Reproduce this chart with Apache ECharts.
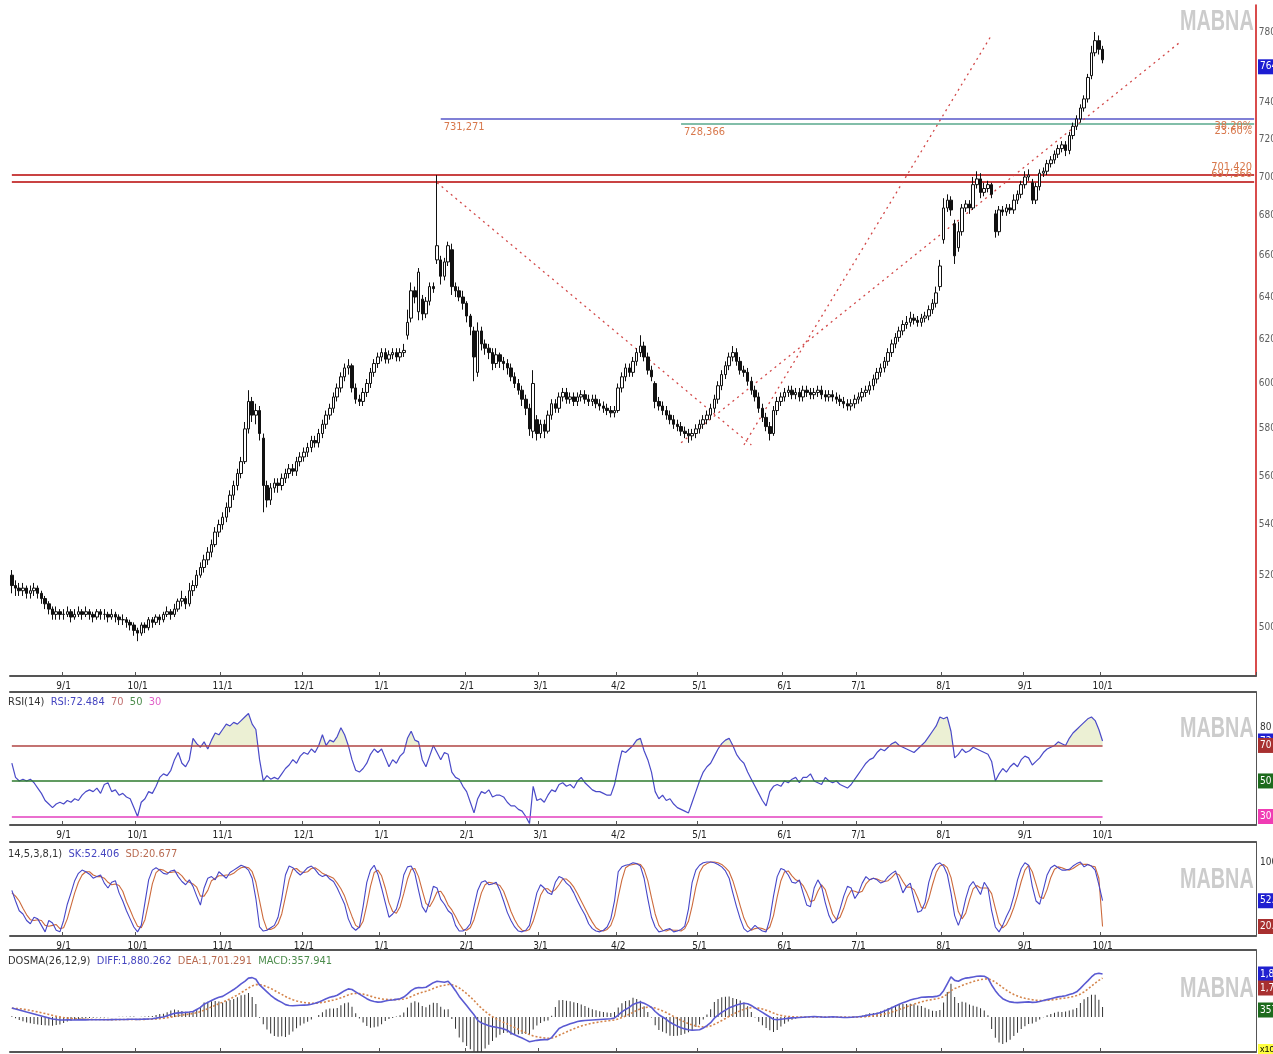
<!DOCTYPE html>
<html><head><meta charset="utf-8">
<script src="https://cdn.jsdelivr.net/npm/echarts@6/dist/echarts.min.js"></script>
<style>html,body{margin:0;padding:0;background:#fff}#c{width:1273px;height:1054px}</style>
</head><body><div id="c"></div>
<script>
// ---------------- DATA ----------------
const openP=[520,516,515,514,515,513,514,515,513,511,
509,507,505,506,505,505,506,504,505,506,
505,506,505,504,506,505,505,504,505,504,
503,503,502,501,499,498,501,500,503,502,
504,503,505,506,505,507,510,511,509,514,
516,520,523,526,529,532,537,540,543,547,
552,556,561,566,580,592,586,588,576,556,
550,555,557,556,559,561,563,562,566,568,
570,572,575,574,578,582,586,589,594,598,
603,607,608,598,593,592,596,600,605,609,
612,614,611,613,614,612,614,622,630,643,
633,639,632,638,645,658,658,650,657,663,
645,643,640,637,631,624,605,624,618,616,
614,609,613,610,609,607,603,600,597,593,
589,579,584,578,582,579,586,591,589,594,
596,593,594,592,594,595,593,592,593,591,
590,589,588,587,588,598,603,607,605,610,
614,617,612,606,600,592,590,588,586,584,
582,581,579,578,577,578,580,582,584,586,
589,593,599,604,608,612,614,610,606,605,
601,597,594,589,585,581,578,588,592,594,
596,597,595,596,594,597,596,595,596,597,
595,594,595,594,593,592,591,590,591,593,
594,596,597,599,602,605,607,610,614,618,
621,624,627,628,630,629,628,630,631,634,
637,645,668,684,688,676,664,672,684,686,
684,696,699,692,694,696,681,672,683,682,
684,683,688,691,696,700,697,688,695,702,
703,707,709,712,715,717,714,722,727,731,
737,742,755,768,775,770];
const closeP=[516,515,514,515,513,514,515,513,511,509,
507,505,506,505,505,506,504,505,506,505,
506,505,504,506,505,505,504,505,504,503,
503,502,501,499,498,501,500,503,502,504,
503,505,506,505,507,510,511,509,514,516,
520,523,526,529,532,537,540,543,547,552,
556,561,566,580,592,586,588,578,556,550,
555,557,556,559,561,563,562,566,568,570,
572,575,574,578,582,586,589,594,598,603,
607,608,598,593,592,596,600,605,609,612,
614,611,613,614,612,614,615,628,643,640,
652,632,638,645,644,665,650,657,665,645,
643,640,637,631,626,612,624,618,616,614,
609,613,610,609,607,603,600,597,593,589,
580,600,578,582,579,586,591,589,594,596,
593,594,592,594,595,593,592,593,591,590,
589,588,587,588,598,603,607,605,610,614,
617,612,606,603,592,590,588,586,584,582,
581,579,578,577,578,580,582,584,586,589,
593,599,604,608,612,614,610,606,605,601,
597,594,589,585,581,578,588,592,594,596,
597,595,596,594,597,596,595,596,597,595,
594,595,594,593,592,591,590,591,593,594,
596,597,599,602,605,607,610,614,618,621,
624,627,628,630,629,628,630,631,634,637,
642,655,684,688,683,660,672,684,686,684,
696,699,692,694,696,691,672,683,682,684,
683,688,691,696,700,701,688,695,702,703,
707,709,712,715,717,714,722,727,731,737,
742,754,768,775,770,764];
const lowP=[513,512,512,512,511,511,512,511,509,507,
505,503,503,503,503,504,502,503,504,503,
504,503,502,503,503,503,502,503,502,501,
501,500,499,497,495,497,498,499,500,501,
501,502,504,503,504,506,508,507,508,512,
515,519,521,524,527,531,535,538,541,545,
550,554,559,565,578,583,582,575,545,547,
548,553,553,554,557,559,560,560,564,566,
568,570,572,572,576,580,584,587,592,596,
601,604,596,591,590,590,594,598,603,607,
610,609,609,611,610,610,612,620,628,637,
629,629,630,636,642,656,646,648,655,641,
640,638,634,628,622,601,603,615,613,611,
606,607,607,606,604,601,598,595,590,586,
577,576,575,576,576,578,584,587,587,592,
591,591,590,590,592,591,590,590,589,588,
587,586,585,585,587,596,601,603,603,608,
612,610,604,601,589,588,586,584,582,580,
579,577,576,574,575,576,578,580,582,584,
587,591,597,602,606,610,608,604,603,599,
595,592,587,583,579,575,577,586,590,592,
594,593,593,592,592,594,593,593,594,593,
592,592,592,591,590,589,588,588,589,591,
592,594,595,597,600,603,605,608,612,616,
619,622,625,626,627,626,626,628,629,632,
635,643,666,682,680,656,662,670,682,681,
683,694,689,690,692,689,669,670,680,680,
681,681,686,689,694,698,686,686,693,700,
701,705,707,710,713,711,712,720,725,729,
735,740,753,766,767,762];
const highP=[522,518,517,517,516,516,517,516,514,512,
510,508,508,507,507,508,507,507,508,507,
508,507,506,507,507,507,506,507,506,505,
505,504,503,502,500,502,502,504,504,505,
505,506,508,507,509,511,514,512,517,518,
522,525,528,531,534,539,542,545,549,554,
558,563,568,583,597,594,591,590,578,558,
557,559,559,561,563,565,565,568,570,572,
574,577,577,580,584,588,591,596,600,605,
609,611,609,600,595,598,602,607,611,614,
616,616,615,616,616,616,618,634,647,645,
654,641,640,647,647,701,660,659,667,666,
647,645,643,638,632,626,628,626,620,618,
616,616,614,612,611,609,605,602,599,595,
591,606,586,584,584,588,593,593,596,598,
598,596,596,596,597,597,595,595,595,593,
592,591,590,590,600,605,609,609,612,616,
622,619,614,608,601,594,592,590,588,586,
584,583,581,580,580,582,584,586,588,591,
595,601,606,610,614,617,616,612,608,607,
603,599,596,591,587,583,590,594,596,598,
599,599,598,598,599,599,598,598,599,599,
597,597,597,596,595,594,593,593,595,596,
598,599,601,604,607,609,612,616,620,623,
626,629,631,633,632,631,632,633,636,639,
645,658,689,691,690,678,677,686,688,688,
700,703,702,697,698,697,683,685,685,686,
686,691,693,698,703,704,699,697,704,705,
709,711,714,717,719,719,724,729,733,739,
744,756,772,780,778,772];
const rsi=[60,52,50,51,50,51,49,46,43,39,
37,35,37,38,37,39,38,40,39,42,
44,45,44,46,43,48,49,44,45,42,
43,41,40,35,30,38,40,44,43,47,
52,54,53,56,62,66,60,58,62,74,
71,69,72,68,73,77,76,79,82,81,
83,82,84,86,88,82,79,62,50,53,
51,52,51,54,57,59,62,60,64,66,
65,68,66,70,76,70,73,72,75,80,
76,70,62,56,55,57,60,65,68,66,
68,63,58,62,60,64,66,74,78,73,
72,62,58,64,70,66,62,66,65,55,
52,51,47,44,38,32,40,44,43,45,
41,42,42,41,38,36,36,34,33,30,
26,47,39,40,38,42,45,44,48,49,
47,48,46,50,52,49,47,45,44,44,
43,42,42,48,58,67,66,68,70,73,
74,67,62,55,44,40,42,39,40,37,
35,34,33,32,38,44,50,55,58,60,
64,68,71,73,74,70,65,62,60,55,
51,47,43,39,36,44,47,48,47,50,
49,51,52,49,52,52,54,50,49,48,
52,50,49,50,48,47,46,48,51,54,
57,60,62,63,66,68,67,69,71,72,
70,69,68,67,66,68,70,72,75,78,
81,86,85,86,78,63,65,68,66,67,
69,68,67,66,65,61,50,54,57,55,
58,60,58,62,64,63,59,61,63,66,
68,69,70,72,71,70,74,77,79,81,
83,85,86,84,79,72.484];
const sk=[65,52,40,36,28,24,32,30,22,14,
28,25,16,14,28,48,62,77,86,90,
88,85,80,82,84,74,68,75,77,62,
52,40,30,20,14,22,50,78,90,93,
90,86,85,89,90,82,76,72,78,70,
58,47,68,80,82,78,88,84,80,87,
90,93,96,94,90,80,55,20,15,16,
19,22,32,55,84,95,93,88,84,88,
93,95,91,85,82,84,79,76,68,58,
48,30,20,16,20,45,75,90,96,85,
68,50,32,36,42,58,84,94,95,86,
65,45,38,52,70,68,54,48,40,36,
22,15,15,18,24,45,65,75,77,72,
73,75,65,52,38,28,20,15,14,16,
22,42,62,72,68,62,60,75,82,80,
74,70,62,52,43,35,24,18,15,14,
16,20,30,52,88,94,96,97,99,98,
95,80,55,32,20,14,15,17,18,14,
15,17,21,42,75,90,96,99,100,100,
99,97,94,89,80,62,45,30,18,14,
17,22,18,15,14,30,58,82,92,90,
84,75,74,78,62,47,45,68,78,70,
50,34,25,28,42,58,70,68,55,62,
74,82,78,80,78,74,76,82,86,89,
76,62,70,74,55,38,40,50,75,90,
97,99,95,85,62,34,22,35,55,70,
76,68,60,75,68,40,20,14,22,33,
42,58,78,92,99,96,70,52,48,66,
84,93,96,93,90,90,91,95,98,100,
94,97,95,90,72,52.406];
const sd=[62,58,52,43,35,29,28,29,28,22,
21,22,23,18,19,30,46,62,75,84,
88,88,84,82,82,80,75,72,73,71,
64,51,41,30,21,19,29,50,73,87,
91,90,87,87,88,87,83,77,75,73,
69,58,58,65,77,80,83,83,84,84,
86,90,93,94,93,88,75,52,30,17,
17,19,24,36,57,78,91,92,88,87,
88,92,93,90,86,84,82,80,74,67,
58,45,33,22,19,27,47,70,87,90,
83,68,50,39,37,45,61,79,91,92,
82,65,49,45,53,63,64,57,47,41,
33,24,17,16,19,29,45,62,72,75,
74,73,71,64,52,39,29,21,16,15,
17,27,42,59,67,67,63,66,72,79,
79,75,69,61,52,43,34,26,19,16,
15,17,22,34,57,78,93,96,97,98,
97,91,77,56,36,22,16,15,17,16,
16,15,18,27,46,69,87,95,98,100,
100,99,97,93,88,77,62,46,31,21,
16,18,19,18,16,20,34,57,77,88,
89,83,78,76,71,62,51,53,64,72,
66,51,36,29,32,43,57,65,64,62,
64,73,78,80,79,77,76,77,81,86,
84,76,69,69,66,56,44,43,55,72,
87,95,97,93,81,60,39,30,37,53,
67,71,68,68,68,61,43,25,19,23,
32,44,59,76,90,96,88,73,57,55,
66,81,91,94,93,91,90,92,95,98,
97,97,95,94,80,20.677];
const diff=[393,350,306,262,218,175,131,87,44,0,
-44,-87,-109,-131,-131,-125,-128,-130,-128,-126,
-124,-122,-120,-118,-118,-120,-118,-115,-112,-110,
-108,-105,-100,-98,-105,-100,-92,-85,-75,-50,
-20,0,50,110,160,180,190,200,215,240,
330,420,560,640,720,800,860,900,1000,1100,
1200,1320,1450,1560,1700,1720,1650,1400,1250,1100,
950,820,720,640,540,500,490,500,510,520,
530,560,600,650,720,800,860,900,950,1050,
1150,1230,1200,1100,1000,900,800,720,680,650,
660,700,730,740,770,800,870,1000,1150,1250,
1290,1280,1300,1400,1500,1560,1540,1520,1560,1380,
1150,900,700,500,300,100,-150,-260,-320,-380,
-420,-450,-480,-520,-580,-700,-780,-850,-920,-1000,
-1080,-1050,-1020,-1000,-990,-990,-900,-700,-500,-420,
-360,-300,-250,-200,-170,-150,-140,-130,-120,-110,
-100,-90,-80,-40,80,220,330,420,550,610,
650,600,520,420,240,100,0,-100,-230,-320,
-400,-470,-520,-560,-580,-570,-560,-480,-380,-250,
-50,80,200,300,400,460,520,570,600,580,
500,400,300,200,100,0,-100,-120,-100,-80,
-60,-40,-30,-20,-10,0,10,20,10,0,
-10,0,10,0,-10,-20,-20,-10,0,10,
30,60,100,120,150,200,260,330,400,480,
560,620,680,740,790,820,860,870,880,880,
900,950,1150,1450,1750,1600,1560,1650,1700,1720,
1750,1780,1790,1780,1700,1400,1150,950,800,720,
660,640,630,640,650,660,640,650,680,720,
760,800,840,880,900,930,980,1030,1100,1250,
1420,1580,1750,1880,1910,1880.262];
const dea=[380,374,360,340,316,288,256,222,187,150,
111,71,35,2,-24,-44,-61,-75,-85,-93,
-99,-104,-107,-109,-111,-113,-114,-114,-114,-113,
-112,-111,-109,-107,-107,-106,-103,-100,-95,-86,
-73,-58,-36,-7,26,57,84,107,129,151,
187,234,299,367,438,510,580,644,715,792,
874,963,1060,1160,1268,1358,1416,1413,1380,1324,
1249,1163,1074,987,898,818,752,702,663,635,
614,603,602,612,634,667,706,745,786,839,
901,967,1014,1031,1025,1000,960,912,866,823,
790,772,764,759,761,769,789,831,895,966,
1031,1081,1125,1180,1244,1307,1354,1387,1422,1414,
1361,1269,1155,1024,879,723,548,386,245,120,
12,-80,-160,-232,-302,-382,-461,-539,-615,-692,
-770,-826,-865,-892,-912,-928,-922,-878,-802,-726,
-653,-582,-516,-453,-396,-347,-306,-271,-241,-215,
-192,-172,-154,-131,-89,-27,44,119,205,286,
359,407,430,428,390,332,266,193,108,22,
-62,-144,-219,-287,-346,-391,-425,-436,-425,-390,
-322,-242,-154,-63,30,116,197,272,338,386,
409,407,386,349,299,239,171,113,70,40,
20,8,0,-4,-5,-4,-1,3,4,3,
0,0,2,2,-1,-5,-8,-8,-6,-3,
4,15,32,50,70,96,129,169,215,268,
326,385,444,503,560,612,662,704,739,767,
794,825,890,1002,1152,1242,1306,1375,1440,1496,
1547,1594,1633,1662,1670,1616,1523,1408,1286,1173,
1070,984,913,858,816,785,756,735,724,723,
730,744,763,786,809,833,862,896,937,1000,
1100,1220,1350,1480,1600,1701.291];
const macdHist=[26,-48,-108,-156,-196,-226,-250,-270,-286,-300,
-310,-316,-288,-266,-214,-162,-134,-110,-86,-66,
-50,-36,-26,-18,-14,-14,-8,-2,4,6,
8,12,18,18,4,12,22,30,40,72,
106,116,172,234,268,246,212,186,172,178,
286,372,522,546,564,580,560,512,570,616,
652,714,780,800,864,724,468,-26,-260,-448,
-598,-686,-708,-694,-716,-636,-524,-404,-306,-230,
-168,-86,-4,76,172,266,308,310,328,422,
498,526,372,138,-50,-200,-320,-384,-372,-346,
-260,-144,-68,-38,18,62,162,338,510,568,
518,398,350,440,512,506,372,266,276,-68,
-422,-738,-910,-1048,-1158,-1246,-1396,-1292,-1130,-1000,
-864,-740,-640,-576,-556,-636,-638,-622,-610,-616,
-620,-448,-310,-216,-156,-124,44,356,604,612,
586,564,532,506,452,394,332,282,242,210,
184,164,148,182,338,494,572,602,690,648,
582,386,180,-16,-300,-464,-532,-586,-676,-684,
-676,-652,-602,-546,-468,-358,-270,-88,90,280,
544,644,708,726,740,688,646,596,524,388,
182,-14,-172,-298,-398,-478,-542,-466,-340,-240,
-160,-96,-60,-32,-10,8,22,34,12,-6,
-20,0,16,-4,-18,-30,-24,-4,12,26,
52,90,136,140,160,208,262,322,370,424,
468,470,472,474,460,416,396,332,282,226,
212,250,520,896,1196,716,508,550,520,448,
406,372,314,236,60,-432,-746,-916,-972,-906,
-820,-688,-566,-436,-332,-250,-232,-170,-88,-6,
60,112,154,188,182,194,236,268,326,500,
640,720,800,800,620,357.941];

const priceTicks=[500,520,540,560,580,600,620,640,660,680,700,720,740,760,780];
const monthLabels=['9/1','10/1','11/1','12/1','1/1','2/1','3/1','4/2','5/1','6/1','7/1','8/1','9/1','10/1'];
const lastPrice=764;
const rsiLevels=[70,50,30];
const rsiLast=72.484, skLast=52.406, sdLast=20.677, diffLast=1880.262, deaLast=1701.291, macdLast=357.941;
// horizontal price levels: value, start index, labels
const levelValues=[731.271,728.366,701.420,697.366];
const levelStart=[116,181,0,0];
const levelLeftText=['731,271','728,366','',''];
const levelRightText=['38.20%','23.60%','701,420','697,366'];
// dotted trend lines: [startIndex, startPrice, endIndex, endPrice]
const trendLines=[[115,697.0,200,573.1],[181,574.0,316,774.2],[198,573.1,265,778.3]];

// ---------------- CATEGORIES ----------------
const totalSlots=337;
const dates=[];
(function(){const d=new Date(Date.UTC(2018,7,14));
 while(dates.length<totalSlots){const w=d.getUTCDay(); if(w!==0&&w!==6) dates.push(d.toISOString().slice(0,10)); d.setUTCDate(d.getUTCDate()+1);}})();
const monthAt={};
(function(){let k=0; for(let i=1;i<dates.length&&k<monthLabels.length;i++){ if(dates[i].slice(5,7)!==dates[i-1].slice(5,7)) monthAt[i]=monthLabels[k++]; }})();
const isMonth=(i)=>monthAt[i]!==undefined;

const candles=closeP.map((c,i)=>[openP[i],c,lowP[i],highP[i]]);
const lastIdx=closeP.length-1;

const FONT="'Liberation Sans Narrow','DejaVu Sans Condensed','Liberation Sans',sans-serif";
const GRIDL=10, GRIDR=17;
const CLEAR='rgba(0,0,0,0)';

function catAxis(gridIndex, extra){
  return Object.assign({type:'category',gridIndex,data:dates,boundaryGap:true,
    axisLine:{show:true,onZero:false,lineStyle:{color:'#555',width:2}},
    axisTick:{show:true,inside:true,length:4,interval:isMonth,lineStyle:{color:'#555'}},
    axisLabel:{show:true,interval:isMonth,formatter:(v,i)=>monthAt[i]||'',fontSize:10,color:'#222',margin:5,fontFamily:FONT},
    splitLine:{show:false}},extra||{});
}
function topLine(gridIndex){
  return {type:'category',gridIndex,data:dates,position:'top',boundaryGap:true,
    axisLine:{show:true,onZero:false,lineStyle:{color:'#555',width:2}},axisTick:{show:false},axisLabel:{show:false},splitLine:{show:false}};
}
function box(value,text,bg,offset){
  return {yAxis:value,lineStyle:{color:CLEAR,width:1,type:'solid'},
    label:{show:true,position:'end',distance:2,formatter:text,color:'#fff',backgroundColor:bg,padding:[3,2,2,2],fontSize:10,fontFamily:FONT,offset:offset||[0,0]}};
}

// price markLines
const priceMarks=[];
levelValues.forEach((v,k)=>{
  const col=['#5656c8','#58a88c','#c94343','#c94343'][k];
  priceMarks.push([{coord:[dates[levelStart[k]],v],lineStyle:{color:col,width:k>1?2:1.6,type:'solid'},
     label:{show:levelLeftText[k]!=='',position:'insideStartBottom',formatter:levelLeftText[k],color:'#d8784c',fontSize:11,fontFamily:FONT,distance:3}},
    {coord:[dates[totalSlots-1],v]}]);
  priceMarks.push([{coord:[dates[levelStart[k]],v],lineStyle:{color:CLEAR,width:1,type:'solid'},
     label:{show:true,position:k>1?'insideEndTop':'insideEndBottom',formatter:levelRightText[k],color:'#d8784c',fontSize:11,fontFamily:FONT,distance:2}},
    {coord:[dates[totalSlots-1],v]}]);
});
trendLines.forEach(t=>{
  priceMarks.push([{coord:[dates[t[0]],t[1]],lineStyle:{color:'#d24848',width:1.3,type:[2,4]},label:{show:false}},
                   {coord:[dates[t[2]],t[3]]}]);
});
priceMarks.push(box(lastPrice,String(lastPrice),'#1c1cd2',[0,7]));

// rsi markLines
const rsiCols={70:'#b04545',50:'#2c7a2c',30:'#e33fbf'};
const rsiBg={70:'#a83030',50:'#1d6b1d',30:'#f03cb4'};
const rsiMarks=[box(rsiLast,rsiLast.toFixed(3),'#2020d0')];
rsiLevels.forEach(l=>{
  rsiMarks.push([{coord:[dates[0],l],lineStyle:{color:rsiCols[l],width:1.5,type:'solid'},label:{show:false}},{coord:[dates[lastIdx],l]}]);
});
rsiLevels.forEach(l=>rsiMarks.push(box(l,String(l),rsiBg[l])));

const option={
  animation:false,
  backgroundColor:'#fff',
  textStyle:{fontFamily:FONT},
  title:[
    {left:8,top:697,padding:0,text:'{k|RSI(14)}  {b|RSI:72.484}  {r|70}  {g|50}  {m|30}',
     textStyle:{fontSize:11,fontWeight:'normal',rich:{k:{color:'#333',fontSize:11,fontFamily:FONT},b:{color:'#4545c0',fontSize:11,fontFamily:FONT},r:{color:'#c07070',fontSize:11,fontFamily:FONT},g:{color:'#4c8c4c',fontSize:11,fontFamily:FONT},m:{color:'#e060c8',fontSize:11,fontFamily:FONT}}}},
    {left:8,top:849,padding:0,text:'{k|14,5,3,8,1)}  {b|SK:52.406}  {r|SD:20.677}',
     textStyle:{fontSize:11,fontWeight:'normal',rich:{k:{color:'#333',fontSize:11,fontFamily:FONT},b:{color:'#4545c0',fontSize:11,fontFamily:FONT},r:{color:'#b86a50',fontSize:11,fontFamily:FONT}}}},
    {left:8,top:956,padding:0,text:'{k|DOSMA(26,12,9)}  {b|DIFF:1,880.262}  {r|DEA:1,701.291}  {g|MACD:357.941}',
     textStyle:{fontSize:11,fontWeight:'normal',rich:{k:{color:'#333',fontSize:11,fontFamily:FONT},b:{color:'#4545c0',fontSize:11,fontFamily:FONT},r:{color:'#b86a50',fontSize:11,fontFamily:FONT},g:{color:'#4c8c4c',fontSize:11,fontFamily:FONT}}}}
  ],
  graphic:[
    {type:'text',x:1180,y:7,scaleX:0.66,style:{text:'MABNA',fill:'#cccccc',font:'bold 30px "Liberation Sans", Arial, sans-serif'}},
    {type:'text',x:1180,y:714,scaleX:0.66,style:{text:'MABNA',fill:'#cccccc',font:'bold 30px "Liberation Sans", Arial, sans-serif'}},
    {type:'text',x:1180,y:865,scaleX:0.66,style:{text:'MABNA',fill:'#cccccc',font:'bold 30px "Liberation Sans", Arial, sans-serif'}},
    {type:'text',x:1180,y:974,scaleX:0.66,style:{text:'MABNA',fill:'#cccccc',font:'bold 30px "Liberation Sans", Arial, sans-serif'}},
    {type:'text',x:1258,y:1044,style:{text:'x10',fill:'#000',backgroundColor:'#ffff40',padding:[1,2],font:'9px sans-serif'}}
  ],
  grid:[
    {left:GRIDL,right:GRIDR,top:5,height:671,outerBoundsMode:'none'},
    {left:GRIDL,right:GRIDR,top:692,height:133,outerBoundsMode:'none'},
    {left:GRIDL,right:GRIDR,top:842,height:94,outerBoundsMode:'none'},
    {left:GRIDL,right:GRIDR,top:950,height:102,outerBoundsMode:'none'},
    {left:GRIDL,right:GRIDR,top:692,height:53.45,outerBoundsMode:'none'}
  ],
  xAxis:[
    catAxis(0),
    catAxis(1),
    catAxis(2),
    catAxis(3,{axisLabel:{show:false}}),
    topLine(1),topLine(2),topLine(3),
    {type:'value',gridIndex:0,min:0,max:1,show:false},
    {type:'category',gridIndex:4,data:dates,boundaryGap:true,show:false}
  ],
  yAxis:[
    {type:'log',gridIndex:0,position:'right',min:482.3,max:795.9,
     axisLine:{show:true,onZero:false,lineStyle:{color:'#cc1111',width:1.5}},axisTick:{show:false},axisLabel:{show:false},splitLine:{show:false}},
    {type:'value',gridIndex:1,position:'right',min:25.2,max:100.1,
     axisLine:{show:true,onZero:false,lineStyle:{color:'#555',width:1}},axisTick:{show:false},splitLine:{show:false},
     axisLabel:{show:true,customValues:[80],fontSize:10,color:'#333',margin:4,fontFamily:FONT}},
    {type:'value',gridIndex:2,position:'right',min:8.9,max:124.6,
     axisLine:{show:true,onZero:false,lineStyle:{color:'#555',width:1}},axisTick:{show:false},splitLine:{show:false},
     axisLabel:{show:true,customValues:[100,50],fontSize:10,color:'#333',margin:4,fontFamily:FONT}},
    {type:'value',gridIndex:3,position:'right',min:-1530,max:2928,
     axisLine:{show:true,onZero:false,lineStyle:{color:'#555',width:1}},axisTick:{show:false},splitLine:{show:false},axisLabel:{show:false}},
    {type:'value',gridIndex:3,position:'right',min:-1260,max:2412,show:false},
    {type:'value',gridIndex:4,position:'right',min:70,max:100.1,show:false}
  ],
  series:[
    {type:'candlestick',xAxisIndex:0,yAxisIndex:0,data:candles,barWidth:3,silent:true,z:5,
     itemStyle:{color:'#ffffff',color0:'#111111',borderColor:'#111111',borderColor0:'#111111',borderWidth:1},
     markLine:{silent:true,symbol:['none','none'],animation:false,data:priceMarks}},
    {type:'scatter',xAxisIndex:7,yAxisIndex:0,data:priceTicks.map(v=>[0.999,v]),symbolSize:0.1,silent:true,z:1,
     itemStyle:{color:'transparent'},
     label:{show:true,position:'right',distance:4,formatter:p=>String(p.value[1]),fontSize:10,color:'#333',fontFamily:FONT}},
    {type:'line',xAxisIndex:8,yAxisIndex:5,data:rsi,symbol:'none',silent:true,z:1,clip:true,
     lineStyle:{width:0,opacity:0},areaStyle:{color:'#ecf0d4',origin:'start',opacity:1}},
    {type:'line',xAxisIndex:1,yAxisIndex:1,data:rsi,symbol:'none',silent:true,z:3,
     lineStyle:{color:'#4a4ac8',width:1.2},
     markLine:{silent:true,symbol:['none','none'],animation:false,data:rsiMarks}},
    {type:'line',xAxisIndex:2,yAxisIndex:2,data:sd,symbol:'none',silent:true,z:2,
     lineStyle:{color:'#cc6a3c',width:1.1}},
    {type:'line',xAxisIndex:2,yAxisIndex:2,data:sk,symbol:'none',silent:true,z:3,
     lineStyle:{color:'#4646c8',width:1.1},
     markLine:{silent:true,symbol:['none','none'],animation:false,
       data:[box(skLast,skLast.toFixed(3),'#2020d0'),box(sdLast,sdLast.toFixed(3),'#a83030')]}},
    {type:'bar',xAxisIndex:3,yAxisIndex:4,data:macdHist,barWidth:1,silent:true,z:1,
     itemStyle:{color:'#333'}},
    {type:'line',xAxisIndex:3,yAxisIndex:3,data:dea,symbol:'none',silent:true,z:2,
     lineStyle:{color:'#d4844a',width:1.6,type:[2,2]}},
    {type:'line',xAxisIndex:3,yAxisIndex:3,data:diff,symbol:'none',silent:true,z:3,
     lineStyle:{color:'#5a5ad2',width:1.6},
     markLine:{silent:true,symbol:['none','none'],animation:false,
       data:[box(diffLast,'1,880.262','#2020d0'),
             box(deaLast,'1,701.291','#a83030',[0,10]),
             box(macdLast*2.428,'357.941','#1d6b1d',[0,13])]}}
  ]
};
const chart=echarts.init(document.getElementById('c'),null,{renderer:'canvas'});
chart.setOption(option);
</script>
</body></html>
